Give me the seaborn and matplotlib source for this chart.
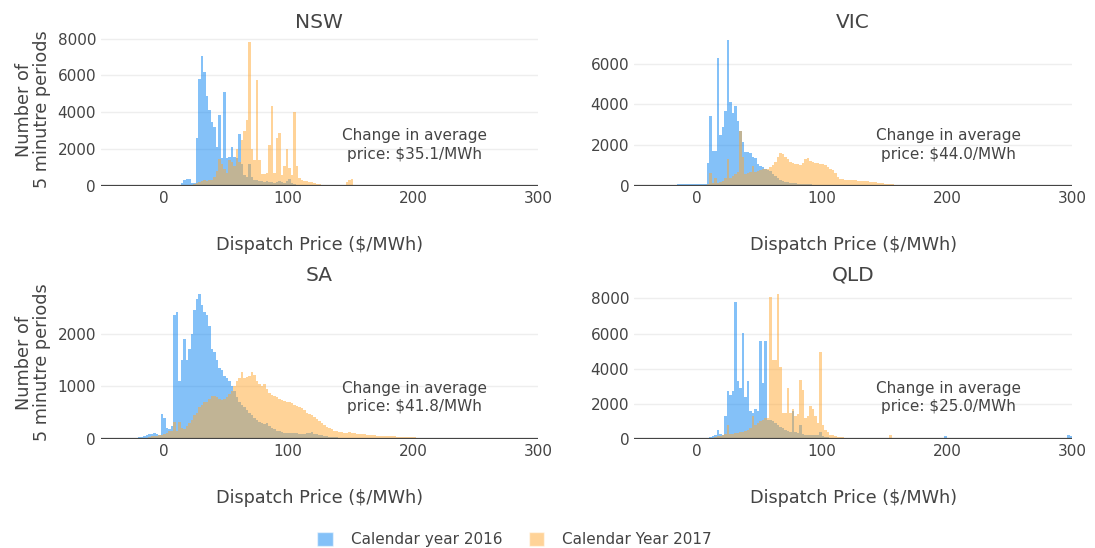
import numpy as np
import pandas as pd
import seaborn as sns
import matplotlib.pyplot as plt
from matplotlib.patches import Patch

# histogram counts, bin width $2/MWh, each list starts at the given left edge
nsw_2016_start = 14
nsw_2016 = [150, 350, 400, 400, 150, 150, 2600, 5800, 7050, 6200, 4900, 4100, 3500, 3200,
            2100, 3850, 1500, 5100, 1500, 1600, 2100, 1600, 1500, 2800, 1200, 600, 500, 1200,
            500, 350, 300, 250, 250, 200, 250, 200, 200, 180, 200, 250, 200, 180, 250, 400,
            150, 100, 80, 60, 50, 50, 50, 50, 50, 30, 30, 30, 30, 30]
nsw_2017_start = 20
nsw_2017 = [50, 80, 100, 150, 200, 250, 300, 250, 300, 350, 500, 800, 1450, 1200, 900, 700,
            1400, 1300, 1100, 2000, 1300, 2500, 3000, 3600, 7800, 2000, 1400, 5750, 1400, 650,
            650, 700, 2200, 4350, 700, 2600, 2850, 600, 1100, 2000, 1000, 600, 4000, 1100, 450,
            300, 250, 250, 200, 200, 150, 120, 100, 80, 60, 40, 40, 30, 30, 30, 30, 30, 30,
            200, 300, 400, 80]

vic_2016_start = -16
vic_2016 = [80, 80, 80, 80, 80, 80, 90, 90, 90, 100, 100, 120, 1150, 3450, 1700, 1700, 6300,
            2500, 2900, 3700, 7150, 4100, 3600, 3900, 3200, 2700, 2150, 1650, 1650, 1600, 1400,
            1350, 1100, 1000, 950, 850, 800, 750, 600, 500, 400, 300, 250, 200, 180, 150, 150,
            130, 100, 100, 90, 90, 80, 80, 70, 70, 60, 60, 50, 50, 40, 40, 40, 30, 30, 30, 30, 30]
vic_2017_start = 0
vic_2017 = [30, 30, 50, 50, 100, 620, 150, 370, 150, 200, 250, 400, 1300, 400, 500, 600, 700,
            2700, 1400, 600, 650, 700, 1000, 700, 750, 800, 850, 850, 850, 950, 1050, 1200, 1400,
            1600, 1550, 1400, 1300, 1200, 1150, 1100, 1100, 1050, 1150, 1300, 1350, 1250, 1200,
            1150, 1150, 1100, 1100, 1050, 950, 850, 800, 650, 450, 350, 320, 300, 290, 280, 280,
            270, 260, 250, 250, 240, 230, 220, 200, 190, 170, 150, 130, 110, 100, 90, 80, 70,
            60, 55, 50, 45, 40, 35, 30, 30, 25, 25, 20, 20, 20, 20, 20, 20, 20, 20, 20, 20]

sa_2016_start = -20
sa_2016 = [40, 40, 50, 70, 100, 100, 120, 100, 80, 470, 400, 200, 180, 250, 2350, 2400, 1100,
           1500, 1900, 1500, 1700, 2000, 2450, 2650, 2750, 2550, 2400, 2350, 2150, 1700, 1650,
           1500, 1350, 1300, 1200, 1150, 1100, 1000, 900, 800, 700, 650, 600, 550, 500, 450,
           400, 350, 330, 300, 280, 300, 250, 200, 180, 150, 150, 130, 120, 120, 120, 120, 110,
           110, 100, 100, 100, 110, 120, 130, 100, 90, 80, 70, 60, 50, 45, 40, 35, 30]
sa_2017_start = -12
sa_2017 = [40, 50, 60, 60, 70, 80, 100, 120, 150, 150, 320, 150, 330, 200, 180, 250, 300, 350,
           450, 500, 600, 650, 700, 700, 750, 820, 820, 800, 760, 740, 760, 800, 850, 900, 1000,
           1100, 1150, 1270, 1150, 1180, 1200, 1270, 1220, 1100, 1050, 1000, 1050, 950, 870,
           830, 820, 800, 760, 740, 720, 700, 700, 680, 650, 620, 600, 580, 540, 500, 480, 450,
           420, 380, 340, 300, 260, 230, 200, 180, 160, 150, 140, 130, 120, 110, 130, 120, 110,
           100, 95, 90, 85, 80, 75, 70, 68, 65, 62, 60, 58, 55, 52, 50, 48, 45,
           42, 40, 38, 35, 32, 30, 28, 26, 24, 22, 20, 18, 16, 14, 12, 10]

qld_2016_start = 10
qld_2016 = [100, 150, 250, 500, 300, 200, 1300, 2700, 2500, 2700, 7800, 3300, 2900, 6050, 2400,
            3300, 1600, 1500, 1700, 1600, 5550, 3200, 5550, 1100, 1100, 1000, 900, 800, 700,
            600, 500, 450, 400, 1600, 400, 350, 800, 300, 250, 200, 200, 200, 200, 250, 400,
            150, 120, 100, 80, 70, 60, 50, 50, 40, 40, 30, 30, 30, 30, 30]
qld_2016_extra_price = [199, 261, 263, 265, 297, 299]
qld_2016_extra_count = [150, 80, 80, 80, 200, 150]
qld_2017_start = 10
qld_2017 = [50, 80, 100, 150, 150, 200, 300, 800, 300, 300, 350, 350, 400, 400, 450, 500, 600,
            1300, 800, 900, 1000, 1100, 1200, 1200, 8100, 4500, 4500, 8250, 4100, 1500, 1500,
            2900, 1500, 1700, 1300, 1400, 3350, 2800, 1200, 1300, 1900, 1700, 1300, 900, 4950,
            800, 500, 400, 250, 200, 150, 120, 100, 90, 80, 50, 50, 50, 50, 50, 50, 50, 50, 50,
            50, 50, 50, 50, 50, 50, 50, 50, 200]

regions = ['NSW', 'VIC', 'SA', 'QLD']
changes = ['$35.1/MWh', '$44.0/MWh', '$41.8/MWh', '$25.0/MWh']


def to_frame(start, counts, extra_p=(), extra_n=()):
    mids = [start + 1 + 2 * i for i in range(len(counts))] + list(extra_p)
    return pd.DataFrame({'price': mids, 'n': list(counts) + list(extra_n)})


data = {
    'NSW': (to_frame(nsw_2016_start, nsw_2016), to_frame(nsw_2017_start, nsw_2017)),
    'VIC': (to_frame(vic_2016_start, vic_2016), to_frame(vic_2017_start, vic_2017)),
    'SA': (to_frame(sa_2016_start, sa_2016), to_frame(sa_2017_start, sa_2017)),
    'QLD': (to_frame(qld_2016_start, qld_2016, qld_2016_extra_price, qld_2016_extra_count),
            to_frame(qld_2017_start, qld_2017)),
}

sns.set_theme(style='white')
plt.rcParams['font.family'] = ['DejaVu Sans']
grey = '#444444'
blue = '#0a84f2'
orange = '#ffa833'

fig = plt.figure(figsize=(10.95, 5.48), dpi=100)
positions = {'NSW': [0.0922, 0.6606, 0.399, 0.279], 'VIC': [0.579, 0.6606, 0.4, 0.279],
             'SA': [0.0922, 0.199, 0.399, 0.279], 'QLD': [0.579, 0.199, 0.4, 0.279]}
ylims = {'NSW': 8300, 'VIC': 7500, 'SA': 2900, 'QLD': 8700}
yticks = {'NSW': [0, 2000, 4000, 6000, 8000], 'VIC': [0, 2000, 4000, 6000],
          'SA': [0, 1000, 2000], 'QLD': [0, 2000, 4000, 6000, 8000]}

for region, change in zip(regions, changes):
    ax = fig.add_axes(positions[region])
    d16, d17 = data[region]
    sns.histplot(data=d16, x='price', weights='n', binwidth=2, binrange=(-50, 300), ax=ax,
                 color=blue, alpha=0.5, linewidth=0)
    sns.histplot(data=d17, x='price', weights='n', binwidth=2, binrange=(-50, 300), ax=ax,
                 color=orange, alpha=0.5, linewidth=0)
    ax.axhline(0, color=grey, lw=1.6, zorder=3)
    ax.set_xlim(-50, 300)
    ax.set_ylim(0, ylims[region])
    ax.set_xticks([0, 100, 200, 300])
    ax.set_yticks(yticks[region])
    ax.yaxis.grid(True, color='#eeeeee', lw=1)
    ax.xaxis.grid(False)
    ax.set_axisbelow(True)
    for s in ax.spines.values():
        s.set_visible(False)
    ax.tick_params(length=0, labelsize=11, colors=grey, pad=3.5)
    ax.set_title(region, fontsize=14.5, color=grey, pad=4)
    ax.set_xlabel('Dispatch Price ($/MWh)', fontsize=12.7, color=grey, labelpad=22)
    if region in ('NSW', 'SA'):
        ax.set_ylabel('Number of\n5 minutre periods', fontsize=12.7, color=grey, labelpad=5,
                      linespacing=1.0)
    else:
        ax.set_ylabel('')
    ax.text(0.718, 0.27, 'Change in average\nprice: ' + change, transform=ax.transAxes,
            ha='center', va='center', fontsize=11, color=grey, multialignment='center',
            linespacing=1.3)

handles = [Patch(facecolor=blue, alpha=0.5, label='Calendar year 2016'),
           Patch(facecolor=orange, alpha=0.5, label='Calendar Year 2017')]
fig.legend(handles=handles, loc='center', bbox_to_anchor=(0.47, 0.015), ncol=2,
           frameon=False, fontsize=11, labelcolor=grey, handlelength=1.0, handleheight=1.0,
           columnspacing=1.7, handletextpad=1.2)

fig.savefig('out.png', dpi=100)
